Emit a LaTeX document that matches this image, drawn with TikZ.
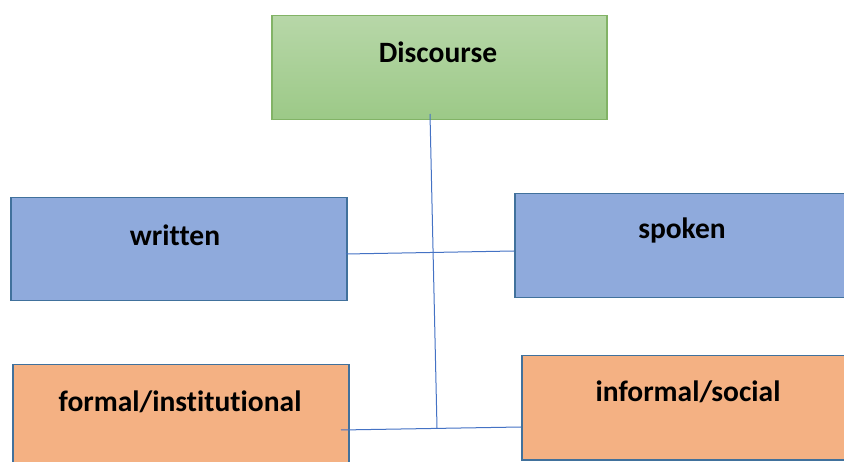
\documentclass[tikz,border=0pt]{standalone}
\usepackage{fontspec}
\setmainfont[Ligatures={NoCommon}]{Carlito}
\definecolor{gtop}{HTML}{B7D7A8}
\definecolor{gbot}{HTML}{9CC987}
\definecolor{gborder}{HTML}{82B366}
\definecolor{bfill}{HTML}{8FAADC}
\definecolor{bborder}{HTML}{41719C}
\definecolor{ofill}{HTML}{F4B183}
\definecolor{lineblue}{HTML}{4472C4}
\tikzset{
  box/.style={rectangle, inner sep=0pt, line width=1.5pt, anchor=north west},
  greenbox/.style={box, draw=gborder, top color=gtop, bottom color=gbot},
  bluebox/.style={box, draw=bborder, fill=bfill},
  orangebox/.style={box, draw=bborder, fill=ofill},
  lbl/.style={font=\bfseries\fontsize{29.5}{32}\selectfont, text=black, inner sep=0pt},
  conn/.style={draw=lineblue, line width=1pt}
}
\begin{document}
\begin{tikzpicture}[x=1pt,y=-1pt]
\useasboundingbox (0,0) rectangle (844,462);
\node[greenbox, minimum width=335pt, minimum height=104pt] (disc) at (271,15) {};
\node[bluebox, minimum width=336pt, minimum height=103pt] (writ) at (10,197) {};
\node[bluebox, minimum width=340pt, minimum height=104pt] (spok) at (514,193) {};
\node[orangebox, minimum width=336pt, minimum height=110pt] (form) at (12,364) {};
\node[orangebox, minimum width=340pt, minimum height=104pt] (inf) at (521,355) {};
\node[lbl] (tdisc) at (438,52) {Discourse};
\node[lbl] (twrit) at (175,235) {written};
\node[lbl] (tspok) at (682,230) {spoken};
\node[lbl] (tform) at (180,402) {formal/institutional};
\node[lbl] (tinf) at (688,392) {informal/social};
\coordinate (vtop) at (430,114);
\coordinate (vbot) at (437,428);
\coordinate (wr) at (346,254);
\coordinate (sl) at (514,251);
\coordinate (fr) at (341,430);
\coordinate (il) at (521,427);
\draw[conn] (vtop) -- (vbot);
\draw[conn] (wr) -- (sl);
\draw[conn] (fr) -- (il);
\end{tikzpicture}
\end{document}
